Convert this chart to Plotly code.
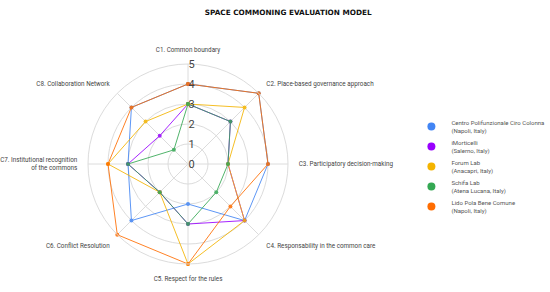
import plotly.graph_objects as go

criteria = [
    "C1. Common boundary",
    "C2. Place-based governance approach",
    "C3. Participatory decision-making",
    "C4. Responsability in the common care",
    "C5. Respect for the rules",
    "C6. Conflict Resolution",
    "C7. Institutional recognition<br>of the commons",
    "C8. Collaboration Network",
]

series_names = [
    "Centro Polifunzionale Ciro Colonna<br>(Napoli, Italy)",
    "iMorticelli<br>(Salerno, Italy)",
    "Forum Lab<br>(Anacapri, Italy)",
    "Schifa Lab<br>(Atena Lucana, Italy)",
    "Lido Pola Bene Comune<br>(Napoli, Italy)",
]

centro = [4, 5, 4, 4, 2, 4, 3, 4]
morticelli = [3, 3, 2, 4, 3, 2, 3, 2]
forum = [3, 4, 2, 4, 5, 2, 4, 3]
schifa = [3, 3, 2, 2, 3, 2, 3, 1]
lido = [4, 5, 4, 3, 5, 5, 4, 4]

colors = ["#4285F4", "#9900FF", "#F4B400", "#34A853", "#FF6D01"]
values = [centro, morticelli, forum, schifa, lido]

radial_ticks = [0, 1, 2, 3, 4, 5]

fig = go.Figure()
for name, vals, col in zip(series_names, values, colors):
    fig.add_trace(go.Scatterpolar(
        r=vals + [vals[0]],
        theta=criteria + [criteria[0]],
        mode="lines+markers",
        line=dict(color=col, width=1),
        marker=dict(color=col, size=4),
        opacity=0.85,
        showlegend=False,
        hoverinfo="skip",
    ))

for i, (name, col) in enumerate(zip(series_names, colors)):
    fig.add_trace(go.Scatterpolar(
        r=[None], theta=[criteria[0]],
        mode="markers",
        marker=dict(color=col, size=8),
        name=name,
        legendgroup=str(i),
        showlegend=True,
    ))

fig.update_layout(
    width=550, height=292,
    margin=dict(l=0, r=0, t=0, b=0, autoexpand=False),
    paper_bgcolor="white",
    plot_bgcolor="white",
    font=dict(family="Roboto, Arial, sans-serif", color="#444"),
    title=dict(
        text="<b>SPACE COMMONING EVALUATION MODEL</b>",
        x=0.524, xanchor="center", y=0.958, yanchor="middle",
        font=dict(family="DejaVu Sans, Arial, sans-serif", size=7.3, color="#111"),
    ),
    polar=dict(
        domain=dict(x=[88/550, 288/550], y=[1-264/292, 1-64/292]),
        bgcolor="white",
        radialaxis=dict(
            range=[0, 5],
            tickvals=radial_ticks,
            ticktext=[str(v) for v in radial_ticks],
            angle=90,
            tickangle=90,
            showline=False,
            ticks="",
            gridcolor="#dcdcdc",
            gridwidth=1,
            tickfont=dict(size=11, color="#444"),
        ),
        angularaxis=dict(
            rotation=90,
            direction="clockwise",
            categoryorder="array",
            categoryarray=criteria,
            gridcolor="#dcdcdc",
            linecolor="#dcdcdc",
            ticks="outside",
            ticklen=9,
            tickcolor="rgba(0,0,0,0)",
            tickfont=dict(size=6.3, color="#444"),
        ),
    ),
    legend=dict(
        x=0.748, y=0.43, xanchor="left", yanchor="middle",
        font=dict(size=6, color="#555"),
        tracegroupgap=1,
        itemwidth=30,
        bgcolor="rgba(0,0,0,0)",
    ),
)

fig.write_html("out.html", post_script="document.body.style.margin='0';",
               config={"displayModeBar": False})
